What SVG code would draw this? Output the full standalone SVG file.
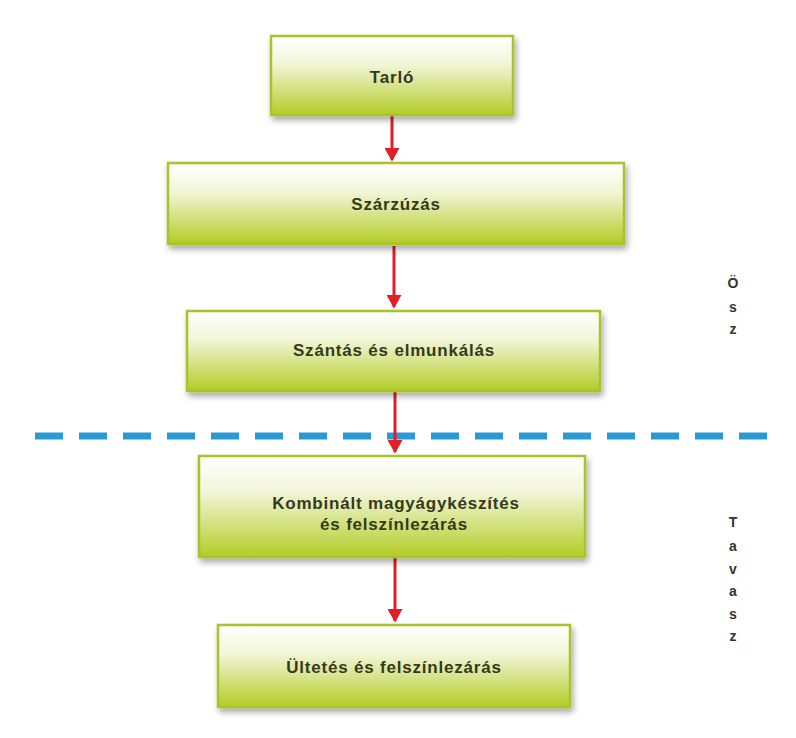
<svg xmlns="http://www.w3.org/2000/svg" width="796" height="738" viewBox="0 0 796 738">
<style>
.box{fill:url(#g);stroke:#a9c42a;stroke-width:2.5;filter:url(#sh)}
.t{font-family:"Liberation Sans",Arial,sans-serif;font-size:17px;fill:#353a1c;text-anchor:middle;font-weight:bold;letter-spacing:0.8px}
.s{font-family:"Liberation Sans",Arial,sans-serif;font-size:14px;fill:#333;text-anchor:middle;font-weight:bold}
.a{stroke:#e11f26;stroke-width:3;fill:none;marker-end:url(#ah)}
</style>
<defs>
<linearGradient id="g" x1="0" y1="0" x2="0" y2="1">
<stop offset="0" stop-color="#ffffff"/>
<stop offset="0.35" stop-color="#f2f6d8"/>
<stop offset="1" stop-color="#b3cc26"/>
</linearGradient>
<filter id="sh" x="-10%" y="-20%" width="125%" height="150%">
<feGaussianBlur in="SourceAlpha" stdDeviation="3"/>
<feOffset dx="2" dy="4" result="b"/>
<feComponentTransfer><feFuncA type="linear" slope="0.35"/></feComponentTransfer>
<feMerge><feMergeNode/><feMergeNode in="SourceGraphic"/></feMerge>
</filter>
<marker id="ah" markerWidth="5" markerHeight="5" refX="4" refY="2.5" orient="auto" markerUnits="strokeWidth">
<path d="M0,0 L4.5,2.5 L0,5 Z" fill="#e11f26"/>
</marker>
</defs>
<rect width="796" height="738" fill="#ffffff"/>
<g id="divider">
<line x1="35" y1="436" x2="772" y2="436" stroke="#2a9ad6" stroke-width="7" stroke-dasharray="28,16"/>
</g>
<g id="connectors">
<line class="a" x1="392" y1="116" x2="392" y2="160"/>
<line class="a" x1="394" y1="246" x2="394" y2="307"/>
<line class="a" x1="395" y1="392" x2="395" y2="452"/>
<line class="a" x1="395" y1="558" x2="395" y2="621"/>
</g>
<g id="n1"><rect class="box" x="271" y="36" width="242" height="79"/><text class="t" x="392" y="83">Tarló</text></g>
<g id="n2"><rect class="box" x="168" y="163" width="456" height="81"/><text class="t" x="396" y="210">Szárzúzás</text></g>
<g id="n3"><rect class="box" x="187" y="311" width="413" height="80"/><text class="t" x="394" y="356">Szántás és elmunkálás</text></g>
<g id="n4"><rect class="box" x="199" y="456" width="386" height="101"/><text class="t" x="396" y="509">Kombinált magyágykészítés</text><text class="t" x="394" y="530">és felszínlezárás</text></g>
<g id="n5"><rect class="box" x="218" y="625" width="352" height="82"/><text class="t" x="394" y="673">Ültetés és felszínlezárás</text></g>
<g id="label-osz">
<text class="s" x="733" y="288">Ö</text><text class="s" x="733" y="312">s</text><text class="s" x="733" y="334">z</text>
</g>
<g id="label-tavasz">
<text class="s" x="733" y="527">T</text><text class="s" x="733" y="551">a</text><text class="s" x="733" y="574">v</text><text class="s" x="733" y="596">a</text><text class="s" x="733" y="619">s</text><text class="s" x="733" y="641">z</text>
</g>
</svg>
